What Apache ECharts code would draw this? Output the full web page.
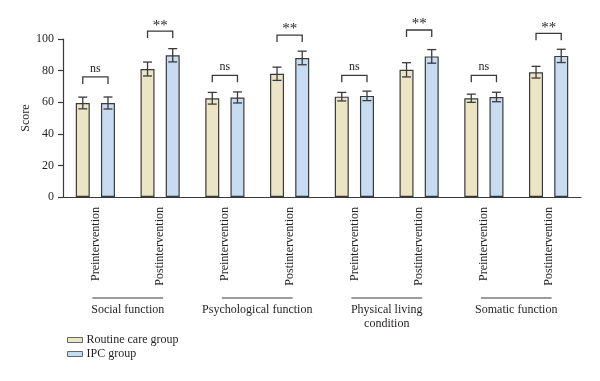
<!DOCTYPE html>
<html>
<head>
<meta charset="utf-8">
<script src="https://cdn.jsdelivr.net/npm/echarts@6/dist/echarts.min.js"></script>
<style>html,body{margin:0;padding:0;background:#fff;}#c{width:600px;height:381px;}</style>
</head>
<body>
<div id="c"></div>
<script>
const categories = ['Preintervention','Postintervention','Preintervention','Postintervention','Preintervention','Postintervention','Preintervention','Postintervention'];
const groupNames = ['Social function','Psychological function','Physical living\ncondition','Somatic function'];
const seriesNames = ['Routine care group','IPC group'];
const routineMean = [59.5, 81.0, 62.5, 78.0, 63.5, 80.5, 62.5, 79.0];
const routineErr  = [3.7, 4.4, 3.7, 4.2, 2.7, 4.5, 2.6, 3.7];
const ipcMean     = [59.5, 89.7, 63.0, 88.0, 64.0, 89.0, 63.3, 89.3];
const ipcErr      = [3.8, 4.2, 3.5, 4.3, 3.0, 4.3, 3.0, 4.2];
const sigLabels   = ['ns','**','ns','**','ns','**','ns','**'];
const bracketLevel = [76, 105, 77, 102.5, 77, 105.7, 77, 103.6];
const yTicks = [0, 20, 40, 60, 80, 100];

const FONT = '"Liberation Serif", "DejaVu Serif", serif';
const TXT = '#231f20';
const LINE = '#3a3a3a';
const BAR_W = 14;
const BAR_GAP = 0.8;
const OFF = (BAR_W + BAR_W * BAR_GAP) / 2;

const chart = echarts.init(document.getElementById('c'), null, {renderer: 'canvas'});

function errRender(offset) {
  return function (params, api) {
    const i = api.value(0);
    const m = api.value(1), e = api.value(2);
    const top = api.coord([i, m + e]);
    const bot = api.coord([i, m - e]);
    const x = top[0] + offset;
    const cap = 4.5;
    const st = {stroke: LINE, lineWidth: 1.3};
    return {type: 'group', children: [
      {type: 'line', shape: {x1: x, y1: top[1], x2: x, y2: bot[1]}, style: st},
      {type: 'line', shape: {x1: x - cap, y1: top[1], x2: x + cap, y2: top[1]}, style: st},
      {type: 'line', shape: {x1: x - cap, y1: bot[1], x2: x + cap, y2: bot[1]}, style: st}
    ]};
  };
}

const option = {
  animation: false,
  backgroundColor: '#fff',
  textStyle: {fontFamily: FONT, color: TXT},
  grid: {left: 63, width: 518, top: 39, height: 158, containLabel: false},
  legend: {
    data: seriesNames,
    orient: 'vertical',
    left: 62, top: 329,
    itemWidth: 15, itemHeight: 5, itemGap: 2,
    textStyle: {fontFamily: FONT, fontSize: 12, color: TXT, padding: [0, 0, 0, -1]},
    itemStyle: {borderWidth: 1, borderColor: '#666'},
    icon: 'rect'
  },
  xAxis: {
    type: 'category',
    data: categories,
    boundaryGap: true,
    axisLine: {lineStyle: {color: LINE, width: 1.2}},
    axisTick: {alignWithLabel: true, length: 5, lineStyle: {color: LINE, width: 1.2}},
    axisLabel: {rotate: 90, interval: 0, fontSize: 12, margin: 10, color: TXT, fontFamily: FONT}
  },
  yAxis: {
    type: 'value',
    min: 0, max: 100, interval: 20,
    name: 'Score', nameLocation: 'middle', nameRotate: 90, nameGap: 31,
    nameMoveOverlap: false,
    nameTextStyle: {fontFamily: FONT, fontSize: 12, color: TXT},
    splitLine: {show: false},
    axisLine: {show: true, lineStyle: {color: LINE, width: 1.2}},
    axisTick: {show: true, inside: false, length: 5, lineStyle: {color: LINE, width: 1.2}},
    axisLabel: {fontSize: 12, margin: 9, color: TXT, fontFamily: FONT,
      formatter: v => yTicks.includes(v) ? String(v) : ''}
  },
  series: [
    {
      name: seriesNames[0], type: 'bar', data: routineMean,
      barWidth: BAR_W, barGap: (BAR_GAP * 100) + '%',
      itemStyle: {color: '#ebe5c6', borderColor: LINE, borderWidth: 1.2}
    },
    {
      name: seriesNames[1], type: 'bar', data: ipcMean,
      barWidth: BAR_W,
      itemStyle: {color: '#c7dbf1', borderColor: LINE, borderWidth: 1.2}
    },
    {
      type: 'custom', silent: true, clip: false, z: 5,
      data: routineMean.map((m, i) => [i, m, routineErr[i]]),
      renderItem: errRender(-OFF)
    },
    {
      type: 'custom', silent: true, clip: false, z: 5,
      data: ipcMean.map((m, i) => [i, m, ipcErr[i]]),
      renderItem: errRender(OFF)
    },
    {
      type: 'custom', silent: true, clip: false, z: 5,
      data: bracketLevel.map((b, i) => [i, b]),
      renderItem: function (params, api) {
        const i = api.value(0);
        const p = api.coord([i, api.value(1)]);
        const x1 = p[0] - OFF, x2 = p[0] + OFF, y = p[1];
        const leg = 7;
        const lab = sigLabels[params.dataIndex];
        const isNs = lab === 'ns';
        return {type: 'group', children: [
          {type: 'polyline', shape: {points: [[x1, y + leg], [x1, y], [x2, y], [x2, y + leg]]},
           style: {stroke: LINE, lineWidth: 1.3, fill: null}},
          {type: 'text', style: {text: lab, x: p[0], y: isNs ? y - 2 : y + 2,
            align: 'center', verticalAlign: 'bottom',
            font: (isNs ? '12px ' : '15px ') + FONT, fill: TXT}}
        ]};
      }
    },
    {
      type: 'custom', silent: true, clip: false, z: 5,
      data: groupNames.map((g, k) => [2 * k, 2 * k + 1]),
      renderItem: function (params, api) {
        const a = api.coord([api.value(0), 0]);
        const b = api.coord([api.value(1), 0]);
        const y = a[1] + 101;
        const name = groupNames[params.dataIndex];
        return {type: 'group', children: [
          {type: 'line', shape: {x1: a[0] - 3, y1: y, x2: b[0] + 3, y2: y},
           style: {stroke: LINE, lineWidth: 1.1}},
          {type: 'text', style: {text: name, x: (a[0] + b[0]) / 2, y: y + 5,
            align: 'center', verticalAlign: 'top', lineHeight: 14,
            font: '12px ' + FONT, fill: TXT}}
        ]};
      }
    }
  ]
};
chart.setOption(option);
</script>
</body>
</html>
